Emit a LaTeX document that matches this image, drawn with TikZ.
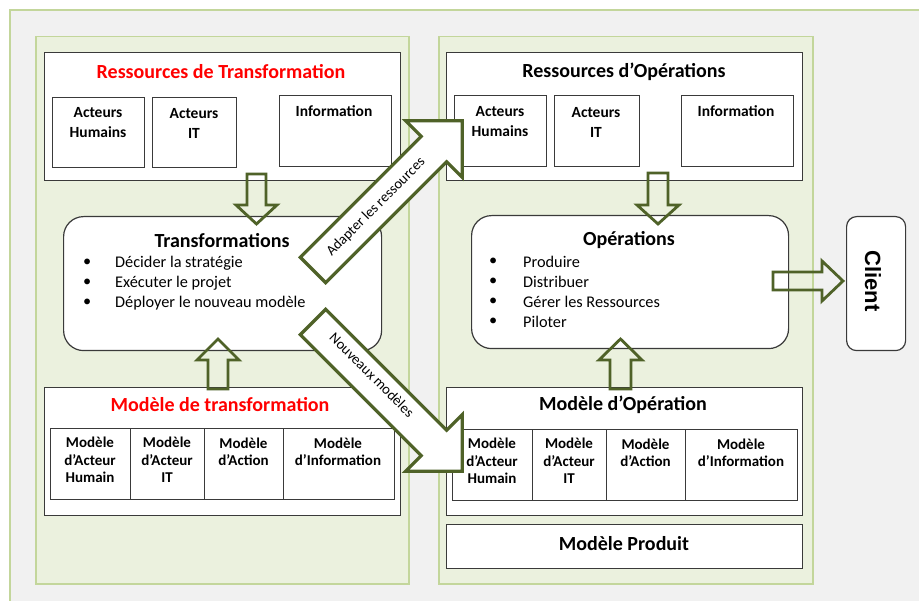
\documentclass[tikz,border=0pt]{standalone}
\usepackage{fontspec}
\setmainfont{Carlito}
\newfontfamily\clientfont{Liberation Sans}
\definecolor{bggray}{HTML}{F1F1F1}
\definecolor{panelfill}{HTML}{EBF1DE}
\definecolor{panelline}{HTML}{C3D69B}
\definecolor{boxline}{HTML}{3A3A3A}
\definecolor{arrowgreen}{HTML}{4F6228}
\definecolor{titlered}{HTML}{FF0000}
\newcommand\myttl{\fontsize{20}{24}\selectfont\bfseries}
\newcommand\mysub{\fontsize{15.5}{20}\selectfont\bfseries}
\newcommand\mybul{\fontsize{16.3}{20}\selectfont}
\newcommand\mytab{\fontsize{15}{17.3}\selectfont\bfseries}
\newcommand\myarr{\fontsize{14.5}{17}\selectfont}
\tikzset{
  panel/.style={draw=panelline, fill=panelfill, line width=1.5pt, inner sep=0pt, anchor=north west},
  box/.style={draw=boxline, fill=white, line width=1.2pt, inner sep=0pt, anchor=north west},
  rbox/.style={box, rounded corners=20pt},
  cell/.style={draw=boxline, line width=1.2pt, inner sep=0pt, anchor=north west},
  txt/.style={inner sep=0pt, align=center},
  ttl/.style={txt, font=\myttl},
  sub/.style={txt, font=\mysub},
  tab/.style={txt, font=\mytab},
  bullet/.style={inner sep=0pt, anchor=west, font=\mybul},
  blockarrow/.style={draw=arrowgreen, line width=2.8pt, line join=miter},
  diagarrow/.style={draw=arrowgreen, fill=white, line width=3.2pt, line join=miter},
}
\begin{document}
\begin{tikzpicture}[x=1pt,y=-1pt]
\useasboundingbox (0,0) rectangle (919,601);
\clip (0,0) rectangle (919,601);
\fill[white] (0,0) rectangle (919,601);
\filldraw[fill=bggray, draw=panelline, line width=1.5pt] (10,10) rectangle (940,620);

% panels
\node[panel, minimum width=373pt, minimum height=547pt] (panelL) at (35,36) {};
\node[panel, minimum width=374pt, minimum height=547pt] (panelR) at (438,36) {};

% Ressources de Transformation
\node[box, minimum width=356pt, minimum height=128pt] (resT) at (44,52) {};
\node[ttl, text=titlered] (resTt) at (221,72) {Ressources de Transformation};
\node[box, minimum width=92pt, minimum height=70pt] (ahT) at (52,97) {};
\node[sub] (ahTt) at (98,123) {Acteurs\\Humains};
\node[box, minimum width=84pt, minimum height=70pt] (itT) at (152,97) {};
\node[sub] (itTt) at (194,123) {Acteurs\\IT};
\node[box, minimum width=112pt, minimum height=71pt] (infT) at (279,95) {};
\node[sub] (infTt) at (334,111) {Information};

% Ressources d'Operations
\node[box, minimum width=356pt, minimum height=128pt] (resO) at (446,52) {};
\node[ttl] (resOt) at (624,72) {Ressources d’Opérations};
\node[box, minimum width=92pt, minimum height=71pt] (ahO) at (454,95) {};
\node[sub] (ahOt) at (500,122) {Acteurs\\Humains};
\node[box, minimum width=85pt, minimum height=71pt] (itO) at (554,95) {};
\node[sub] (itOt) at (596,122) {Acteurs\\IT};
\node[box, minimum width=112pt, minimum height=71pt] (infO) at (681,95) {};
\node[sub] (infOt) at (736,111) {Information};

% Transformations
\node[rbox, minimum width=318pt, minimum height=134pt] (trans) at (63,216) {};
\node[ttl] (transt) at (222,241) {Transformations};
\node[bullet] (tb1) at (83,263) {•};
\node[bullet] (tb1t) at (115,263) {Décider la stratégie};
\node[bullet] (tb2) at (83,283) {•};
\node[bullet] (tb2t) at (115,283) {Exécuter le projet};
\node[bullet] (tb3) at (83,303) {•};
\node[bullet] (tb3t) at (115,303) {Déployer le nouveau modèle};

% Operations
\node[rbox, minimum width=317pt, minimum height=133pt] (ops) at (471,215) {};
\node[ttl] (opst) at (629,240) {Opérations};
\node[bullet] (ob1) at (489,262) {•};
\node[bullet] (ob1t) at (523,262) {Produire};
\node[bullet] (ob2) at (489,282) {•};
\node[bullet] (ob2t) at (523,282) {Distribuer};
\node[bullet] (ob3) at (489,302) {•};
\node[bullet] (ob3t) at (523,302) {Gérer les Ressources};
\node[bullet] (ob4) at (489,322) {•};
\node[bullet] (ob4t) at (523,322) {Piloter};

% Client
\node[box, rounded corners=10pt, minimum width=59pt, minimum height=134pt] (client) at (846,216) {};
\node[txt, rotate=-90, font=\clientfont\fontsize{22}{24}\selectfont\bfseries] (clientt) at (873,281) {Client};

% Modele de transformation
\node[box, minimum width=356pt, minimum height=128pt] (modT) at (44,387) {};
\node[ttl, text=titlered] (modTt) at (220,405) {Modèle de transformation};
\node[cell, minimum width=80pt, minimum height=71pt] (mt1) at (50,428) {};
\node[cell, minimum width=74pt, minimum height=71pt] (mt2) at (130,428) {};
\node[cell, minimum width=79pt, minimum height=71pt] (mt3) at (204,428) {};
\node[cell, minimum width=111pt, minimum height=71pt] (mt4) at (283,428) {};
\node[tab] (mt1t) at (90,460) {Modèle\\d’Acteur\\Humain};
\node[tab] (mt2t) at (167,460) {Modèle\\d’Acteur\\IT};
\node[tab] (mt3t) at (243.5,451.5) {Modèle\\d’Action};
\node[tab] (mt4t) at (338,451.5) {Modèle\\d’Information};

% Modele d'Operation
\node[box, minimum width=356pt, minimum height=128pt] (modO) at (446,387) {};
\node[ttl] (modOt) at (623,405) {Modèle d’Opération};
\node[cell, minimum width=80pt, minimum height=71pt] (mo1) at (452,429) {};
\node[cell, minimum width=74pt, minimum height=71pt] (mo2) at (532,429) {};
\node[cell, minimum width=79pt, minimum height=71pt] (mo3) at (606,429) {};
\node[cell, minimum width=112pt, minimum height=71pt] (mo4) at (685,429) {};
\node[tab] (mo1t) at (492,461) {Modèle\\d’Acteur\\Humain};
\node[tab] (mo2t) at (569,461) {Modèle\\d’Acteur\\IT};
\node[tab] (mo3t) at (645.5,452.5) {Modèle\\d’Action};
\node[tab] (mo4t) at (741,452.5) {Modèle\\d’Information};

% Modele Produit
\node[box, minimum width=356pt, minimum height=44pt] (prod) at (446,524) {};
\node[ttl] (prodt) at (624,544) {Modèle Produit};

% vertical block arrows
\draw[blockarrow] (247,174) -- (266,174) -- (266,205) -- (277,205) -- (256.5,224) -- (236,205) -- (247,205) -- cycle;
\draw[blockarrow] (648,173) -- (668,173) -- (668,205) -- (679,205) -- (658,224) -- (637,205) -- (648,205) -- cycle;
\draw[blockarrow] (208,389) -- (228,389) -- (228,360) -- (239,360) -- (218,339) -- (197,360) -- (208,360) -- cycle;
\draw[blockarrow] (610,389) -- (631,389) -- (631,360) -- (642,360) -- (620.5,339) -- (599,360) -- (610,360) -- cycle;
% arrow to client
\draw[blockarrow] (773,272) -- (822,272) -- (822,261) -- (843,281) -- (822,301) -- (822,290) -- (773,290) -- cycle;

% diagonal arrows
\draw[diagarrow] (325.7,282.7) -- (300.3,257.3) -- (421.2,136.4) -- (405.6,120.8) -- (462.2,120.8) -- (462.2,177.4) -- (446.6,161.8) -- cycle;
\node[txt, rotate=45, font=\myarr] (adapt) at (376,207) {Adapter les ressources};
\draw[diagarrow] (325.7,309.3) -- (300.3,334.7) -- (421.2,455.6) -- (405.6,471.2) -- (462.2,471.2) -- (462.2,414.6) -- (446.6,430.2) -- cycle;
\node[txt, rotate=-45, font=\myarr] (nouv) at (372,375) {Nouveaux modèles};
\end{tikzpicture}
\end{document}
